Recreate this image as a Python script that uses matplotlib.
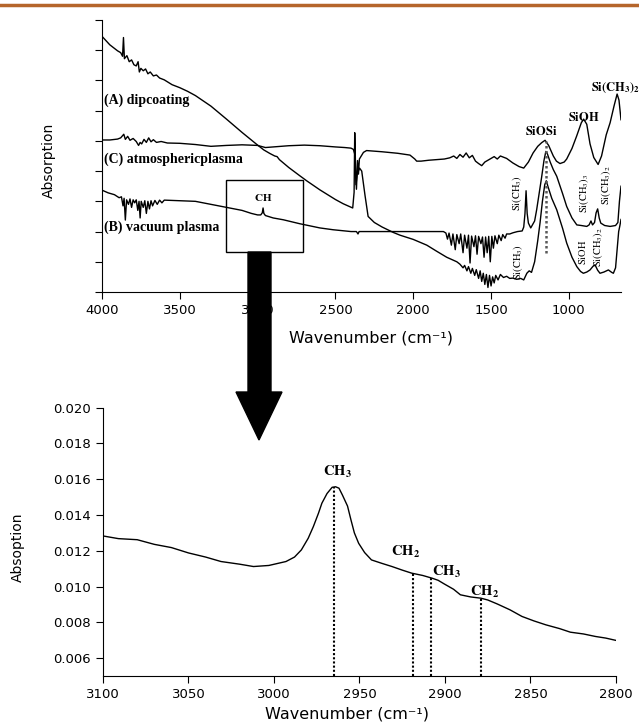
import numpy as np
import matplotlib.pyplot as plt
from matplotlib.patches import Rectangle, Polygon
from matplotlib.lines import Line2D

plt.rcParams['font.family'] = 'DejaVu Sans'
plt.rcParams['mathtext.fontset'] = 'stix'

# ---- top panel: FTIR spectra (arbitrary offset units) ----
# (A) dipcoating
wn_a = [4000, 3950, 3900, 3880, 3868, 3862, 3856, 3840, 3825, 3810, 3795, 3780, 3768, 3760,
        3750, 3735, 3720, 3705, 3690, 3670, 3650, 3630, 3600, 3550, 3500, 3450, 3400, 3300,
        3200, 3100, 3000, 2960, 2920, 2890, 2875, 2860, 2800, 2730, 2685, 2600, 2500, 2450,
        2389, 2380, 2376, 2370, 2365, 2358, 2352, 2346, 2320, 2300, 2200, 2100, 2021, 1990,
        1978, 1950, 1900, 1850, 1800, 1765, 1740, 1720, 1700, 1680, 1660, 1640, 1620, 1600,
        1580, 1560, 1540, 1520, 1500, 1480, 1460, 1440, 1400, 1360, 1320, 1290, 1260, 1230,
        1200, 1175, 1153, 1130, 1100, 1080, 1057, 1030, 1014, 980, 950, 920, 905, 885, 864,
        840, 812, 790, 760, 735, 710, 690, 678, 665]
ab_a = [8.46, 8.18, 7.98, 7.92, 7.80, 8.42, 7.72, 7.82, 7.62, 7.68, 7.52, 7.48, 7.62, 7.28,
        7.40, 7.32, 7.38, 7.22, 7.28, 7.15, 7.18, 7.08, 7.02, 6.86, 6.76, 6.64, 6.50, 6.15,
        5.72, 5.28, 4.86, 4.70, 4.58, 4.50, 4.48, 4.38, 4.12, 3.85, 3.68, 3.38, 3.06, 2.92,
        2.78, 3.30, 5.27, 4.00, 3.40, 4.35, 3.90, 4.40, 4.62, 4.68, 4.64, 4.59, 4.53, 4.40,
        4.33, 4.33, 4.36, 4.38, 4.40, 4.44, 4.50, 4.42, 4.55, 4.46, 4.60, 4.44, 4.52, 4.33,
        4.25, 4.18, 4.30, 4.36, 4.42, 4.48, 4.40, 4.50, 4.42, 4.27, 4.15, 4.10, 4.30, 4.60,
        4.82, 4.94, 5.02, 4.85, 4.50, 4.33, 4.25, 4.30, 4.40, 4.75, 5.16, 5.60, 5.72, 5.55, 4.90,
        4.45, 4.22, 4.50, 5.20, 5.60, 6.15, 6.55, 6.35, 5.70]

# (C) atmospheric plasma
wn_c = [4000, 3950, 3900, 3880, 3860, 3850, 3835, 3820, 3800, 3780, 3765, 3755, 3745, 3730,
        3715, 3700, 3685, 3670, 3650, 3620, 3580, 3500, 3400, 3300, 3200, 3100, 3000, 2950,
        2900, 2800, 2700, 2600, 2500, 2440, 2400, 2385, 2375, 2368, 2360, 2345, 2331, 2310,
        2290, 2250, 2200, 2128, 2085, 2000, 1913, 1850, 1785, 1720, 1700, 1680, 1670, 1655,
        1645, 1630, 1620, 1605, 1595, 1580, 1570, 1560, 1550, 1540, 1530, 1520, 1510, 1500,
        1490, 1480, 1470, 1455, 1440, 1420, 1400, 1380, 1360, 1335, 1310, 1290, 1270, 1255,
        1240, 1220, 1200, 1185, 1170, 1155, 1145, 1135, 1110, 1078, 1040, 1014, 980, 949, 925,
        907, 885, 864, 845, 832, 815, 800, 775, 746, 725, 714, 700, 690, 680, 672, 665]
ab_c = [5.03, 5.03, 5.06, 5.10, 5.22, 5.05, 5.15, 5.02, 5.08, 4.98, 4.85, 4.95, 4.90, 5.05,
        4.95, 5.10, 4.97, 5.04, 4.95, 4.98, 4.93, 4.92, 4.88, 4.82, 4.85, 4.87, 4.85, 4.78,
        4.80, 4.84, 4.86, 4.84, 4.80, 4.78, 4.76, 4.72, 4.55, 3.55, 3.90, 4.10, 4.00, 3.20,
        2.50, 2.30, 2.15, 1.97, 1.88, 1.74, 1.55, 1.35, 1.15, 1.00, 0.92, 0.80, 0.88, 0.70,
        0.84, 0.62, 0.78, 0.55, 0.74, 0.45, 0.70, 0.35, 0.62, 0.25, 0.58, 0.15, 0.55, 0.20,
        0.50, 0.30, 0.55, 0.40, 0.58, 0.48, 0.52, 0.45, 0.46, 0.42, 0.45, 0.40, 0.62, 0.70,
        0.65, 1.00, 1.70, 2.30, 3.00, 3.55, 3.68, 3.50, 3.10, 2.72, 2.10, 1.62, 1.15, 0.84, 0.68,
        0.62, 0.66, 0.73, 0.85, 0.90, 0.72, 0.62, 0.66, 0.73, 0.65, 0.62, 0.80, 1.40, 2.00, 2.20, 2.40]

# (B) vacuum plasma
wn_b = [4000, 3960, 3920, 3890, 3875, 3865, 3858, 3850, 3842, 3830, 3820, 3810, 3800, 3790,
        3780, 3770, 3762, 3755, 3748, 3735, 3725, 3715, 3705, 3695, 3685, 3675, 3660, 3645,
        3630, 3615, 3600, 3550, 3500, 3400, 3300, 3200, 3100, 3040, 3000, 2980, 2970, 2965,
        2960, 2950, 2900, 2835, 2730, 2600, 2515, 2400, 2365, 2355, 2348, 2300, 2200, 2107,
        2000, 1900, 1806, 1790, 1780, 1770, 1755, 1745, 1730, 1720, 1705, 1695, 1680, 1670,
        1655, 1645, 1635, 1625, 1610, 1600, 1590, 1580, 1565, 1555, 1545, 1535, 1525, 1515,
        1505, 1495, 1485, 1475, 1460, 1450, 1435, 1425, 1410, 1400, 1380, 1359, 1330, 1300,
        1290, 1282, 1275, 1268, 1260, 1245, 1220, 1207, 1190, 1175, 1160, 1148, 1140, 1120,
        1100, 1078, 1040, 1014, 980, 949, 920, 885, 870, 858, 848, 835, 825, 815, 805, 795,
        770, 735, 700, 685, 675, 665]
ab_b = [3.37, 3.28, 3.22, 3.12, 3.15, 2.85, 3.10, 2.38, 3.05, 2.90, 3.08, 2.80, 3.05, 2.95,
        3.05, 2.70, 3.00, 2.45, 3.00, 2.80, 3.02, 2.60, 3.00, 2.75, 3.02, 2.85, 3.03, 2.90,
        3.04, 2.95, 3.04, 3.03, 3.02, 3.00, 2.90, 2.80, 2.70, 2.60, 2.55, 2.55, 2.62, 2.78,
        2.60, 2.53, 2.45, 2.39, 2.26, 2.12, 2.06, 2.00, 2.00, 1.92, 2.00, 2.00, 2.00, 2.00,
        2.00, 2.00, 2.00, 1.95, 1.75, 1.95, 1.55, 1.92, 1.40, 1.90, 1.60, 1.92, 1.30, 1.88,
        1.45, 1.88, 0.96, 1.85, 1.50, 1.86, 1.25, 1.84, 1.60, 1.82, 1.15, 1.82, 1.30, 1.84,
        1.00, 1.84, 1.45, 1.86, 1.60, 1.88, 1.70, 1.90, 1.78, 1.92, 1.92, 1.96, 2.00, 2.02,
        2.15, 2.60, 3.35, 2.60, 2.28, 2.12, 2.35, 2.72, 3.30, 3.80, 4.35, 4.65, 4.60, 4.30,
        4.05, 3.83, 3.25, 2.83, 2.45, 2.22, 2.20, 2.17, 2.22, 2.35, 2.22, 2.30, 2.62, 2.75,
        2.45, 2.28, 2.20, 2.17, 2.20, 2.30, 3.00, 3.50]

# ---- bottom panel: CH stretching region ----
wn_ch = [3100, 3091, 3080, 3070, 3060, 3050, 3040, 3031, 3020, 3012, 3003, 2993, 2988, 2984,
         2980, 2977, 2974, 2972, 2969, 2966, 2964, 2962, 2960, 2957, 2955, 2953, 2950.5, 2947,
         2943, 2937, 2931, 2925, 2919.5, 2913, 2907.6, 2904, 2900.5, 2895, 2891, 2885, 2879,
         2875, 2869.5, 2862, 2855, 2848, 2841, 2833, 2826.7, 2819, 2812, 2806, 2800]
ab_ch = [0.01283, 0.01268, 0.01262, 0.01236, 0.01218, 0.01188, 0.01165, 0.01140, 0.01125,
         0.01112, 0.01118, 0.01140, 0.01165, 0.01205, 0.01270, 0.01335, 0.01410, 0.01466,
         0.01520, 0.01555, 0.01558, 0.01550, 0.01512, 0.01450, 0.01373, 0.01300, 0.01242,
         0.01190, 0.01149, 0.01130, 0.01112, 0.01092, 0.01075, 0.01062, 0.01047, 0.01035,
         0.01015, 0.00985, 0.00954, 0.00942, 0.00935, 0.00925, 0.00903, 0.00870, 0.00833,
         0.00808, 0.00786, 0.00765, 0.00745, 0.00735, 0.00721, 0.00712, 0.00699]
ch_peaks = [2965, 2919, 2908, 2879]
ch_names = [r'$\mathbf{CH_3}$', r'$\mathbf{CH_2}$', r'$\mathbf{CH_3}$', r'$\mathbf{CH_2}$']
ch_label_x = [2963, 2923, 2899, 2877]
ch_label_y = [0.01641, 0.01196, 0.01084, 0.00969]

siosi_wn = 1149
zoom_box = (3203, 2710, 1.33, 3.70)

fig = plt.figure(figsize=(6.39, 7.22), dpi=100)

# orange rule at the very top
fig.add_artist(Line2D([0, 1], [1 - 5 / 722] * 2, transform=fig.transFigure,
                      color='#b5652b', lw=2.5))

ax1 = fig.add_axes([102 / 639, 1 - 292 / 722, 519 / 639, 272 / 722])
ax1.plot(wn_a, ab_a, color='black', lw=1.0)
ax1.plot(wn_c, ab_c, color='black', lw=1.0)
ax1.plot(wn_b, ab_b, color='black', lw=1.0)
ax1.set_xlim(4000, 665)
ax1.set_ylim(0, 9)
ax1.set_xticks([4000, 3500, 3000, 2500, 2000, 1500, 1000])
ax1.set_yticks(np.arange(0, 10))
ax1.set_yticklabels([])
for s in ['top', 'right']:
    ax1.spines[s].set_visible(False)
ax1.tick_params(direction='out', length=5, labelsize=9.5, width=0.8)
ax1.set_xlabel('Wavenumber (cm⁻¹)', fontsize=11.5)
ax1.xaxis.set_label_coords(0.518, -0.14)
ax1.set_ylabel('Absorption', fontsize=10)
ax1.yaxis.set_label_coords(-0.089, 0.485)

serif = dict(family='Liberation Serif', weight='bold', fontsize=10)
ax1.text(3987, 6.35, '(A) dipcoating', va='center', ha='left', **serif)
ax1.text(3987, 4.39, '(C) atmosphericplasma', va='center', ha='left', **serif)
ax1.text(3987, 2.14, '(B) vacuum plasma', va='center', ha='left', **serif)
ax1.text(2966, 3.14, r'$\mathbf{CH}$', ha='center', va='center', fontsize=8)

ax1.text(1178, 5.30, r'$\mathbf{SiOSi}$', ha='center', va='center', fontsize=9)
ax1.text(902, 5.76, r'$\mathbf{SiOH}$', ha='center', va='center', fontsize=9)
ax1.text(703, 6.75, r'$\mathbf{Si(CH_3)_2}$', ha='center', va='center', fontsize=9)
vert = dict(rotation=90, ha='center', va='center', fontsize=7.5)
ax1.text(1330, 3.27, r'$\mathrm{Si(CH_3)}$', **vert)
ax1.text(902, 3.27, r'$\mathrm{Si(CH_3)_3}$', **vert)
ax1.text(760, 3.55, r'$\mathrm{Si(CH_3)_2}$', **vert)
ax1.text(1326, 1.00, r'$\mathrm{Si(CH_3)}$', **vert)
ax1.text(915, 1.30, r'$\mathrm{SiOH}$', **vert)
ax1.text(815, 1.50, r'$\mathrm{Si(CH_3)_2}$', **vert)

ax1.plot([siosi_wn, siosi_wn], [1.3, 5.0], color='0.35', lw=1.8, ls=(0, (1, 1)))

x0, x1, y0, y1 = zoom_box
ax1.add_patch(Rectangle((x0, y0), x1 - x0, y1 - y0, fill=False, ec='black', lw=1.0))

# ---- bottom panel ----
ax2 = fig.add_axes([103 / 639, 1 - 676 / 722, 513 / 639, 268.3 / 722])
ax2.plot(wn_ch, ab_ch, color='black', lw=1.0)
ax2.set_xlim(3100, 2800)
ax2.set_ylim(0.005, 0.020)
ax2.set_xticks([3100, 3050, 3000, 2950, 2900, 2850, 2800])
ax2.set_yticks(np.arange(0.006, 0.0201, 0.002))
ax2.yaxis.set_major_formatter(plt.FormatStrFormatter('%.3f'))
for s in ['top', 'right']:
    ax2.spines[s].set_visible(False)
ax2.tick_params(direction='out', length=5, labelsize=9.5, width=0.8)
ax2.set_xlabel('Wavenumber (cm⁻¹)', fontsize=11.5)
ax2.xaxis.set_label_coords(0.476, -0.112)
ax2.set_ylabel('Absoption', fontsize=10)
ax2.yaxis.set_label_coords(-0.152, 0.48)

for p in ch_peaks:
    top = np.interp(p, wn_ch[::-1], ab_ch[::-1])
    ax2.plot([p, p], [0.005, top], color='black', lw=1.5, ls=(0, (1, 1)))
for lx, ly, name in zip(ch_label_x, ch_label_y, ch_names):
    ax2.text(lx, ly, name, ha='center', va='center', fontsize=10.5)

# big arrow from the zoom box down to the lower panel
arrow_px = [(248, 252), (271, 252), (271, 392), (282, 392), (259, 440),
            (236, 392), (248, 392)]
arrow = Polygon([(x / 639, 1 - y / 722) for x, y in arrow_px], closed=True,
                transform=fig.transFigure, fc='black', ec='black', zorder=10)
fig.add_artist(arrow)

fig.savefig('out.png', dpi=100)
